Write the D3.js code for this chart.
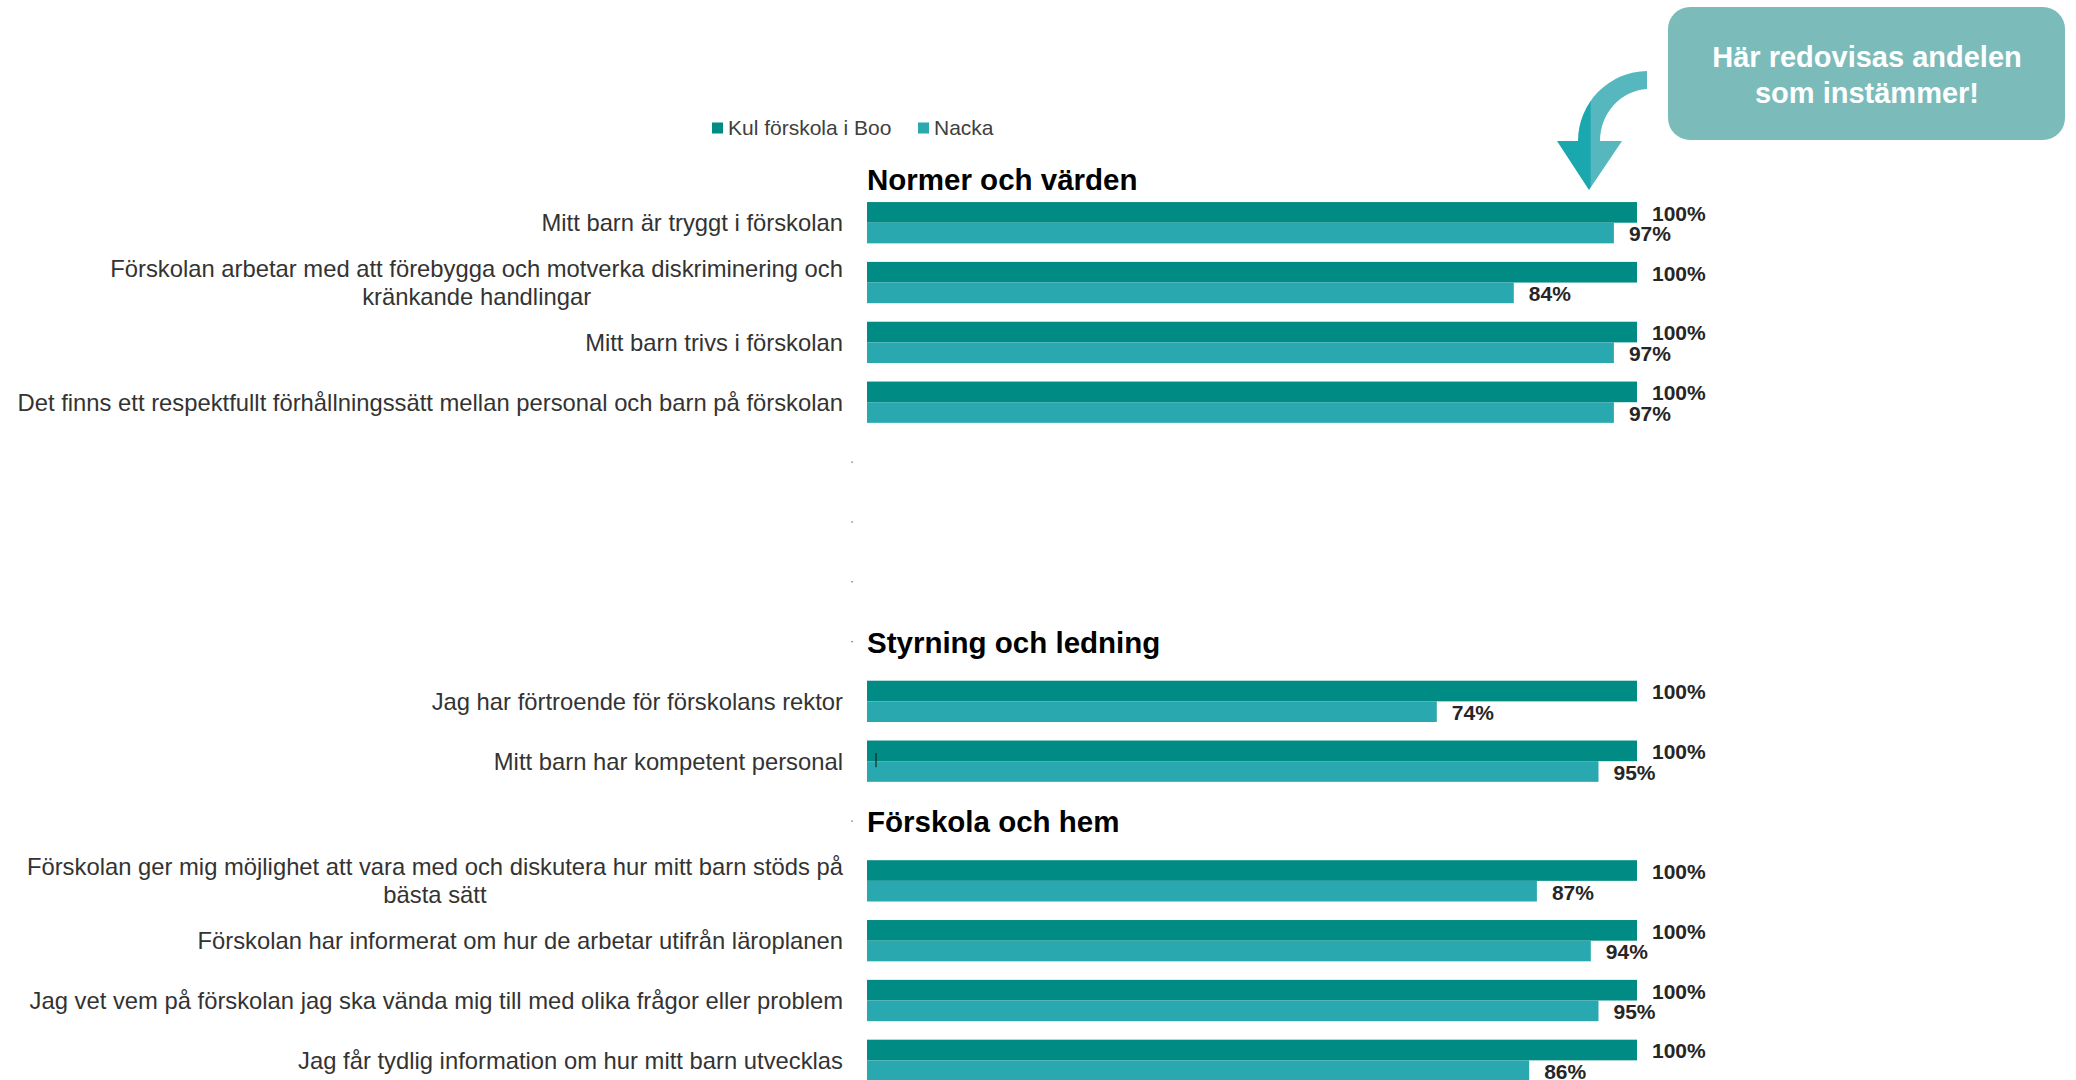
<!DOCTYPE html>
<html>
<head>
<meta charset="utf-8">
<script src="https://cdn.jsdelivr.net/npm/d3@7"></script>
<style>
  body { margin: 0; background: #fff; }
  svg { display: block; font-family: Arial, 'Liberation Sans', sans-serif; }
</style>
</head>
<body>
<script>
'use strict';

/* Data */

var categories = [
  'Mitt barn är tryggt i förskolan',
  'Förskolan arbetar med att förebygga och motverka diskriminering och\nkränkande handlingar',
  'Mitt barn trivs i förskolan',
  'Det finns ett respektfullt förhållningssätt mellan personal och barn på förskolan',
  '', '', '', '',
  'Jag har förtroende för förskolans rektor',
  'Mitt barn har kompetent personal',
  '',
  'Förskolan ger mig möjlighet att vara med och diskutera hur mitt barn stöds på\nbästa sätt',
  'Förskolan har informerat om hur de arbetar utifrån läroplanen',
  'Jag vet vem på förskolan jag ska vända mig till med olika frågor eller problem',
  'Jag får tydlig information om hur mitt barn utvecklas'
];
var seriesNames = ['Kul förskola i Boo', 'Nacka'];
var kulValues = [100, 100, 100, 100, null, null, null, null, 100, 100, null, 100, 100, 100, 100];
var nackaValues = [97, 84, 97, 97, null, null, null, null, 74, 95, null, 87, 94, 95, 86];
var sections = ['Normer och värden', 'Styrning och ledning', 'Förskola och hem'];
var sectionSlots = [0, 7, 10];
var calloutLines = ['Här redovisas andelen', 'som instämmer!'];

var colors = ['#008b84', '#2aa8b0'];

var W = 2076, H = 1080;

var svg = d3.select('body').append('svg')
  .attr('width', W)
  .attr('height', H);

var x = d3.scaleLinear().domain([0, 100]).range([867, 1637]);
var y = d3.scaleBand()
  .domain(d3.range(categories.length))
  .range([192.8, 192.8 + 59.83 * categories.length]);
var inner = d3.scaleBand().domain(seriesNames).range([-20.65, 20.65]);
var color = d3.scaleOrdinal().domain(seriesNames).range(colors);

function mid(i) { return y(i) + y.bandwidth() / 2; }

var rows = categories.map(function(c, i) {
  return { i: i, label: c, values: [kulValues[i], nackaValues[i]] };
});

/* Legend */
var legend = svg.append('g').attr('class', 'legend');
var legendX = [712, 918];
seriesNames.forEach(function(s, k) {
  legend.append('rect')
    .attr('x', legendX[k]).attr('y', 122.5)
    .attr('width', 11).attr('height', 11)
    .attr('fill', color(s));
  legend.append('text')
    .attr('x', legendX[k] + 16).attr('y', 128)
    .attr('dy', '0.35em')
    .attr('font-size', 21)
    .attr('fill', '#404040')
    .text(s);
});

/* Section titles */
svg.append('g').selectAll('text')
  .data(sections)
  .enter().append('text')
  .attr('x', 867)
  .attr('y', function(d, k) {
    return k === 0 ? mid(0) - 43 : mid(sectionSlots[k]) + 1;
  })
  .attr('dy', '0.35em')
  .attr('font-size', 29.5)
  .attr('font-weight', 'bold')
  .attr('fill', '#000')
  .text(function(d) { return d; });

/* Bars */
var bars = rows.filter(function(r) { return r.label !== ''; });

var g = svg.append('g').selectAll('g.row')
  .data(bars)
  .enter().append('g')
  .attr('class', 'row')
  .attr('transform', function(r) { return 'translate(0,' + mid(r.i) + ')'; });

g.selectAll('rect')
  .data(function(r) {
    return r.values.map(function(v, k) { return { s: seriesNames[k], v: v }; });
  })
  .enter().append('rect')
  .attr('x', x(0))
  .attr('y', function(d) { return inner(d.s); })
  .attr('width', function(d) { return x(d.v) - x(0); })
  .attr('height', inner.bandwidth())
  .attr('fill', function(d) { return color(d.s); });

g.selectAll('text.val')
  .data(function(r) {
    return r.values.map(function(v, k) { return { s: seriesNames[k], v: v }; });
  })
  .enter().append('text')
  .attr('class', 'val')
  .attr('x', function(d) { return x(d.v) + 15; })
  .attr('y', function(d) { return inner(d.s) + inner.bandwidth() / 2 + 1; })
  .attr('dy', '0.35em')
  .attr('font-size', 21)
  .attr('font-weight', 'bold')
  .attr('fill', '#262626')
  .text(function(d) { return d.v + '%'; });

/* Category labels */
var labelRight = 843, lineH = 27.6;
bars.forEach(function(r) {
  var lines = r.label.split('\n');
  var t = svg.append('text')
    .attr('font-size', 23.8)
    .attr('fill', '#333');
  var spans = lines.map(function(l, k) {
    return t.append('tspan')
      .attr('y', mid(r.i) + (k - (lines.length - 1) / 2) * lineH)
      .attr('dy', '0.35em')
      .text(l);
  });
  var maxW = d3.max(spans, function(s) { return s.node().getComputedTextLength(); });
  spans.forEach(function(s) {
    s.attr('x', labelRight - maxW / 2).attr('text-anchor', 'middle');
  });
});

/* Tiny tick marks on empty slots */
svg.append('g').selectAll('rect')
  .data(rows.filter(function(r) { return r.label === ''; }))
  .enter().append('rect')
  .attr('x', 851.5)
  .attr('y', function(r) { return mid(r.i) - 0.5; })
  .attr('width', 1.2).attr('height', 1.2)
  .attr('fill', '#444');

// stray cursor mark seen in the source
svg.append('line')
  .attr('x1', 876).attr('x2', 876)
  .attr('y1', mid(9) - 8).attr('y2', mid(9) + 6)
  .attr('stroke', '#111').attr('stroke-width', 1);

/* Callout box + arrow */
var defs = svg.append('defs');
var grad = defs.append('linearGradient')
  .attr('id', 'arrowGrad')
  .attr('gradientUnits', 'userSpaceOnUse')
  .attr('x1', 1558).attr('x2', 1650).attr('y1', 0).attr('y2', 0);
grad.append('stop').attr('offset', '0.35').attr('stop-color', '#1aa7ae');
grad.append('stop').attr('offset', '0.36').attr('stop-color', '#56b7bf');

svg.append('path')
  .attr('d', 'M1647,71 A70,70 0 0,0 1578,141 L1557,141 L1589,190 L1622,141 L1600,141 A50,52 0 0,1 1647,89 Z')
  .attr('fill', 'url(#arrowGrad)');

svg.append('rect')
  .attr('x', 1668).attr('y', 7)
  .attr('width', 397).attr('height', 133)
  .attr('rx', 22)
  .attr('fill', '#7bbcbb');

svg.append('text')
  .attr('font-size', 29)
  .attr('font-weight', 'bold')
  .attr('fill', '#fff')
  .attr('text-anchor', 'middle')
  .selectAll('tspan')
  .data(calloutLines)
  .enter().append('tspan')
  .attr('x', 1867)
  .attr('y', function(d, k) { return 57 + k * 36; })
  .attr('dy', '0.35em')
  .text(function(d) { return d; });
</script>
</body>
</html>
